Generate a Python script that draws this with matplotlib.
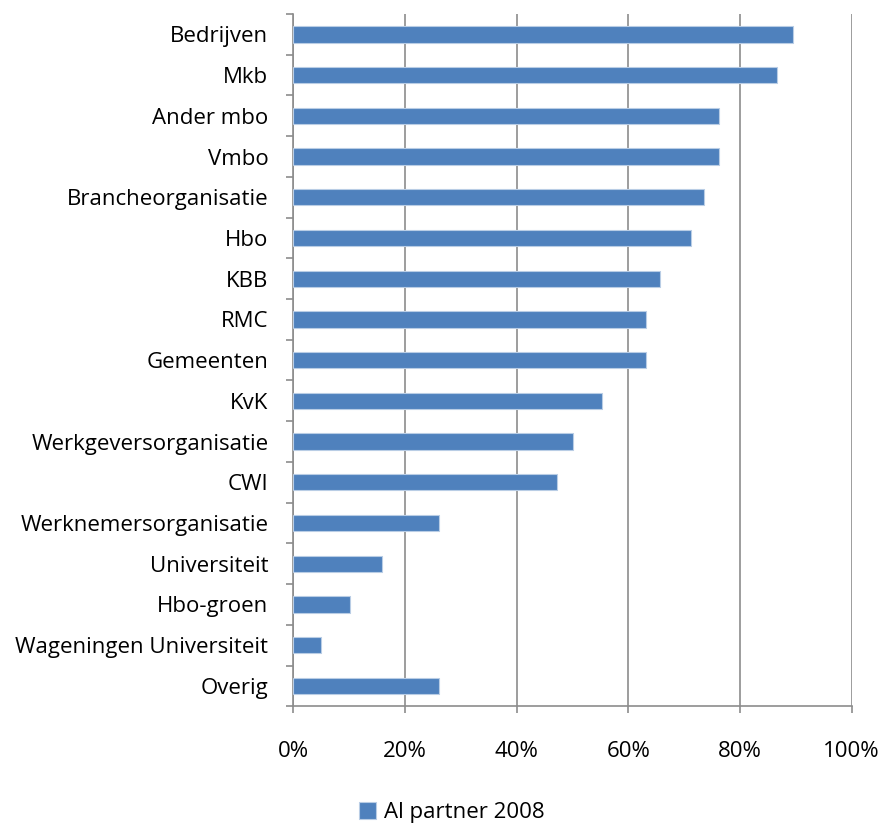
import numpy as np
import matplotlib.pyplot as plt
from matplotlib.ticker import FixedLocator, PercentFormatter

categories = ["Bedrijven", "Mkb", "Ander mbo", "Vmbo", "Brancheorganisatie", "Hbo",
              "KBB", "RMC", "Gemeenten", "KvK", "Werkgeversorganisatie", "CWI",
              "Werknemersorganisatie", "Universiteit", "Hbo-groen",
              "Wageningen Universiteit", "Overig"]
values = [89.5, 86.7, 76.3, 76.3, 73.6, 71.2,
          65.6, 63.2, 63.2, 55.2, 50.0, 47.3,
          26.1, 15.8, 10.2, 5.0, 26.1]
series_name = "Al partner 2008"

plt.rcParams['font.family'] = ['Open Sans', 'DejaVu Sans']
fs = 16

fig = plt.figure(figsize=(8.89, 8.26), dpi=100)
ax = fig.add_axes([0.330, 0.145, 0.628, 0.838])

y = np.arange(len(categories))
ax.barh(y, values, height=0.4, color='#4F81BD', edgecolor='#B9CDE5', linewidth=0.8,
        label=series_name, zorder=3)

ax.set_xlim(0, 100)
ax.set_ylim(len(categories) - 0.5, -0.5)
ax.set_xticks(np.arange(0, 101, 20))
ax.xaxis.set_major_formatter(PercentFormatter(decimals=0))
ax.grid(axis='x', color='#8C8C8C', linewidth=1.2, zorder=0)

ax.set_yticks(y)
ax.set_yticklabels(categories)
ax.yaxis.set_minor_locator(FixedLocator(np.arange(-0.5, len(categories), 1)))
ax.tick_params(axis='y', which='major', length=0, pad=18, labelsize=fs)
ax.tick_params(axis='y', which='minor', length=5, width=1.2, color='#8C8C8C')
ax.tick_params(axis='x', length=5, width=1.2, color='#8C8C8C', pad=20, labelsize=fs)

for side in ['top', 'right']:
    ax.spines[side].set_visible(False)
for side in ['left', 'bottom']:
    ax.spines[side].set_color('#8C8C8C')
    ax.spines[side].set_linewidth(1.2)

fig.legend(loc='center', bbox_to_anchor=(0.508, 0.016), frameon=False,
           fontsize=fs, handlelength=0.8, handleheight=0.8, handletextpad=0.35)

fig.savefig('out.png', dpi=100)
